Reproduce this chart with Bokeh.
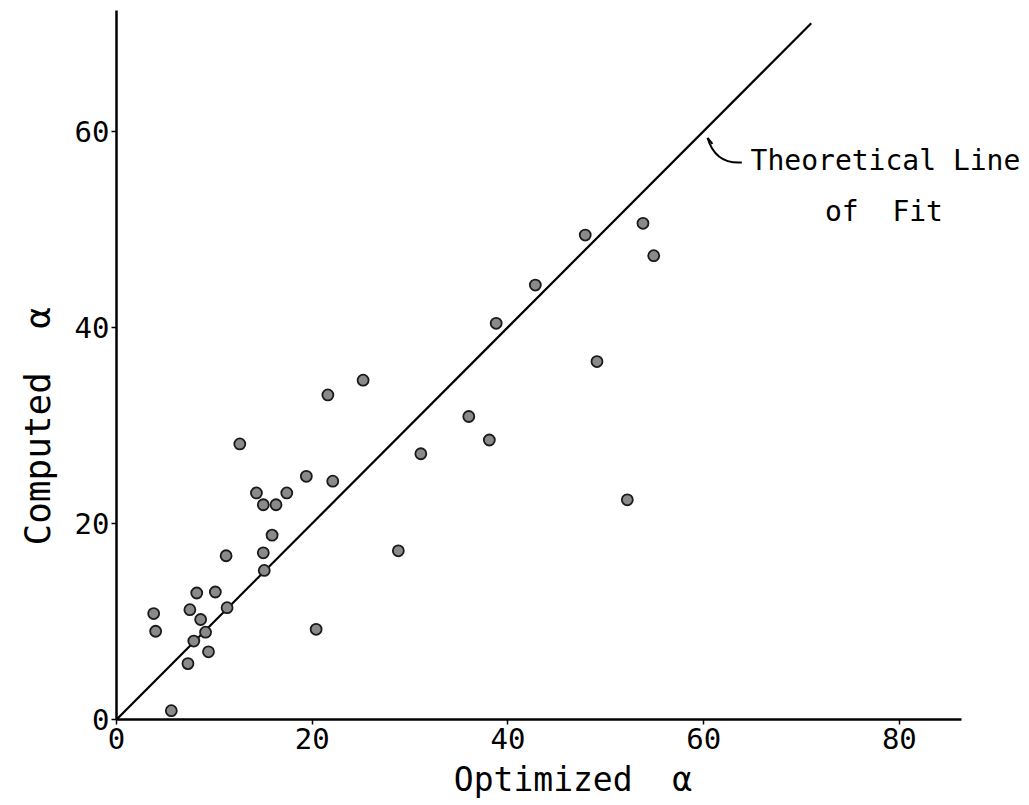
from bokeh.plotting import figure
from bokeh.models import Label, Range1d, FixedTicker, Title
from bokeh.embed import file_html
from bokeh.resources import INLINE

# Data
optimized = [12.6, 19.4, 22.1, 14.3, 17.4, 15.0, 16.3, 15.9, 15.0, 11.2, 15.1, 10.1, 8.2,
             3.8, 7.5, 8.6, 11.3, 4.0, 9.1, 7.9, 9.4, 7.3, 5.6, 20.4, 28.8, 47.9, 53.8,
             54.9, 42.8, 38.8, 49.1, 36.0, 38.1, 31.1, 52.2, 25.2, 21.6]
computed = [28.1, 24.8, 24.3, 23.1, 23.1, 21.9, 21.9, 18.8, 17.0, 16.7, 15.2, 13.0, 12.9,
            10.8, 11.2, 10.2, 11.4, 9.0, 8.9, 8.0, 6.9, 5.7, 0.9, 9.2, 17.2, 49.4, 50.6,
            47.3, 44.3, 40.4, 36.5, 30.9, 28.5, 27.1, 22.4, 34.6, 33.1]
fit_line_x = [0, 71]
fit_line_y = [0, 71]
x_ticks = [0, 20, 40, 60, 80]
y_ticks = [0, 20, 40, 60]
x_axis_end = 86.4
y_axis_end = 72.3

FONT = "DejaVu Sans Mono"
GAP = "\u00a0\u00a0"

p = figure(width=1029, height=805, output_backend="svg", toolbar_location=None,
           x_range=Range1d(0, 93.3), y_range=Range1d(0, y_axis_end),
           min_border_left=115, min_border_right=0, min_border_top=10, min_border_bottom=86)
p.outline_line_color = None
p.xgrid.visible = False
p.ygrid.visible = False
p.background_fill_color = "white"
p.border_fill_color = "white"

for ax in (p.xaxis, p.yaxis):
    ax.axis_line_width = 2.5
    ax.axis_line_color = "black"
    ax.major_tick_in = 0
    ax.major_tick_out = 5
    ax.major_tick_line_width = 1.5
    ax.minor_tick_line_color = None
    ax.major_label_text_font = FONT
    ax.major_label_text_font_size = "29px"
    ax.major_label_text_color = "black"
p.xaxis.ticker = FixedTicker(ticks=x_ticks)
p.yaxis.ticker = FixedTicker(ticks=y_ticks)
p.xaxis.bounds = (0, x_axis_end)
p.xaxis.major_label_standoff = 3
p.yaxis.major_label_standoff = 2

# theoretical line of fit
p.line(fit_line_x, fit_line_y, line_color="black", line_width=2.2)

# points
p.scatter(optimized, computed, size=11, marker="circle",
          fill_color="#8a8a8a", line_color="#1a1a1a", line_width=1.8)

# annotation hook
p.bezier(x0=[60.4], y0=[59.3], x1=[63.9], y1=[56.8],
         cx0=[61.0], cy0=[57.3], cx1=[62.4], cy1=[56.7],
         line_color="black", line_width=2)
p.line([60.4, 60.9], [59.3, 58.7], line_color="black", line_width=2)

p.add_layout(Label(x=64.8, y=57.0, text="Theoretical Line", text_font=FONT,
                   text_font_size="28px", text_baseline="middle", text_align="left",
                   text_color="black"))
p.add_layout(Label(x=72.4, y=51.8, text="of" + GAP + "Fit", text_font=FONT,
                   text_font_size="28px", text_baseline="middle", text_align="left",
                   text_color="black"))

# axis titles
p.add_layout(Title(text="Optimized" + GAP + "α", align="center", standoff=12,
                   text_font=FONT, text_font_size="33px", text_font_style="normal",
                   text_color="black"), "below")
p.add_layout(Title(text="Computed" + GAP + "α", align="left", offset=174, standoff=28,
                   text_font=FONT, text_font_size="36px", text_font_style="normal",
                   text_color="black"), "left")

open("out.html", "w").write(file_html(p, INLINE))
